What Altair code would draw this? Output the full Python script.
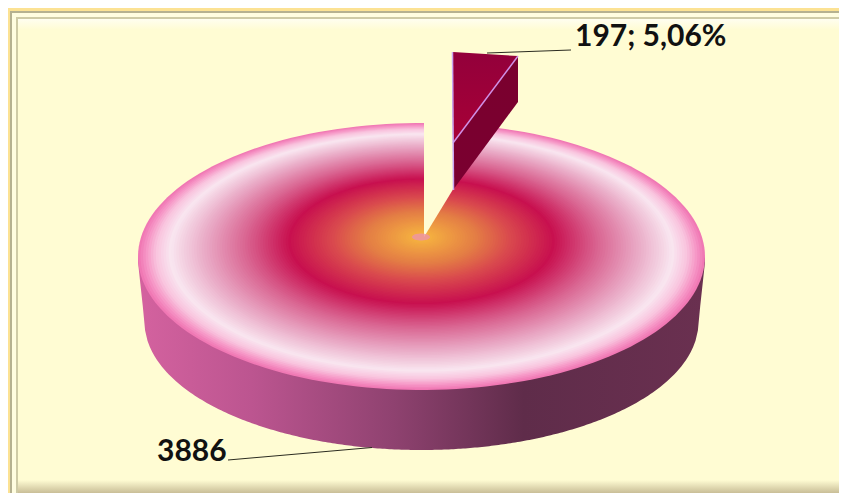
import numpy as np
import pandas as pd
import altair as alt

# values and labels
slice_labels = ["197; 5,06%", "3886"]
label_x = [575, 157]
label_y = [46, 461]

# geometry of the pseudo-3D pie, in picture pixels
PIE_CX, PIE_CY, PIE_A, PIE_B = 421.5, 256.5, 283.5, 133.5
FOCUS_Y = 237
BASE_CY, BASE_A, BASE_B = 322, 277, 128
ring_t = [0, .03, .2, .32, .47, .62, .76, .89, .94, .98, 1]
ring_c = ["#F5B244", "#F5B040", "#E37C45", "#D9484E", "#C8104F", "#D9628F", "#E8A6C3",
          "#F9E6F0", "#F9C4DE", "#F58FC2", "#F078B4"]
side_stops = [(0, "#D4629F"), (.2, "#BC5590"), (.45, "#8F4270"), (.68, "#5F2C4A"), (1, "#6A3050")]

gap_x = [424, 491]
gap_y = [237, 127]
gap_y2 = [110, 110]
edge_lines = {"diag": [(453, 143), (518, 56)], "left": [(452.5, 52), (453.5, 190)]}
leaders = [[(487, 53), (571, 50)], [(228, 460), (372, 447.5)]]

W, H = 831, 485
xs = alt.Scale(domain=[8, 839], range=[0, W])
ys = alt.Scale(domain=[493, 8], range=[H, 0])
X = lambda f: alt.X(f, type="quantitative", scale=xs, axis=None)
Y = lambda f: alt.Y(f, type="quantitative", scale=ys, axis=None)


def hex2rgb(h):
    return np.array([int(h[i:i + 2], 16) for i in (1, 3, 5)], float)


def mix(t):
    arr = np.array([hex2rgb(c) for c in ring_c])
    v = [np.interp(t, ring_t, arr[:, k]) for k in range(3)]
    return "#%02x%02x%02x" % tuple(int(round(q)) for q in v)


def rect(x, x2, y, y2, color):
    d = pd.DataFrame({"x": [x], "x2": [x2], "y": [y], "y2": [y2]})
    return alt.Chart(d).mark_rect(color=color).encode(X("x"), x2="x2", y=Y("y"), y2="y2")


def grad(stops, x2=1, y2=0):
    return alt.LinearGradient(gradient="linear", x1=0, y1=0, x2=x2, y2=y2,
                              stops=[alt.GradientStop(offset=o, color=c) for o, c in stops])


# frame
frame = [
    rect(8, 839, 8, 493, "#FCE293"),
    rect(10, 839, 11, 493, "#B5B190"),
    rect(12, 839, 13, 493, "#FFFDE0"),
    rect(16, 839, 17, 493, "#CFCBA6"),
    rect(18, 839, 19, 493, "#FFFCD3"),
    alt.Chart(pd.DataFrame({"x": [18], "x2": [839], "y": [19], "y2": [30]})).mark_rect(
        color=grad([(0, "#FFFEF0"), (1, "#FFFCD3")], 0, 1)).encode(X("x"), x2="x2", y=Y("y"), y2="y2"),
    alt.Chart(pd.DataFrame({"x": [18], "x2": [839], "y": [480], "y2": [493]})).mark_rect(
        color=grad([(0, "#FFFCD3"), (1, "#C9BE97")], 0, 1)).encode(X("x"), x2="x2", y=Y("y"), y2="y2"),
]

# side wall
sx = np.linspace(PIE_CX - PIE_A, PIE_CX + PIE_A, 240)
u = (sx - PIE_CX) / BASE_A
inner = np.abs(u) < 1
edge = np.abs(sx - PIE_CX)
sy2 = np.where(inner, BASE_CY + BASE_B * np.sqrt(np.clip(1 - u ** 2, 0, 1)),
               322 - (edge - BASE_A) * (60 / (PIE_A - BASE_A)))
side = alt.Chart(pd.DataFrame({"x": sx, "y": PIE_CY, "y2": sy2})).mark_area(
    color=grad(side_stops)).encode(X("x"), y=Y("y"), y2="y2")

# top face: concentric ellipses whose centre slides towards the focus
phi = np.linspace(0, np.pi, 90)
face = []
for t in np.linspace(1, 0.02, 110):
    cy = FOCUS_Y + (PIE_CY - FOCUS_Y) * t ** 2
    dy = PIE_B * t * np.sin(phi)
    d = pd.DataFrame({"x": np.round(PIE_CX + PIE_A * t * np.cos(phi), 2),
                      "y": np.round(cy - dy, 2), "y2": np.round(cy + dy, 2)})
    face.append(alt.Chart(d).mark_area(color=mix(t)).encode(X("x"), y=Y("y"), y2="y2"))

# gap left by the exploded slice
gap = alt.Chart(pd.DataFrame({"x": gap_x, "y": gap_y, "y2": gap_y2})).mark_area(color="#FFFCD3").encode(
    X("x"), y=Y("y"), y2="y2")

# focus dot
dphi = np.linspace(0, np.pi, 30)
dot = alt.Chart(pd.DataFrame({"x": 421 + 9 * np.cos(dphi), "y": 237 - 3.5 * np.sin(dphi),
                              "y2": 237 + 3.5 * np.sin(dphi)})).mark_area(color="#EE93A6", opacity=0.8).encode(
    X("x"), y=Y("y"), y2="y2")

# exploded slice
wedge_side = alt.Chart(pd.DataFrame({"x": [453, 518], "y": [143, 56], "y2": [190, 102]})).mark_area(
    color=grad([(0, "#7A002E"), (1, "#7A0030")], 0, 1)).encode(X("x"), y=Y("y"), y2="y2")
wedge_top = alt.Chart(pd.DataFrame({"x": [452, 453, 518], "y": [52, 52, 56], "y2": [52, 143, 56]})).mark_area(
    color=grad([(0, "#93003B"), (1, "#A80036")], 0, 1)).encode(X("x"), y=Y("y"), y2="y2")


def polyline(pts, color, w):
    d = pd.DataFrame({"x": [p[0] for p in pts], "y": [p[1] for p in pts], "o": range(len(pts))})
    return alt.Chart(d).mark_line(color=color, strokeWidth=w).encode(X("x"), y=Y("y"), order="o:Q")


edges = [polyline(edge_lines["diag"], "#CF8FE6", 1.5), polyline(edge_lines["left"], "#C9A6F2", 1.5)]
lead = [polyline(p, "#2B2B20", 1) for p in leaders]

labels = alt.Chart(pd.DataFrame({"x": label_x, "y": label_y, "t": slice_labels})).mark_text(
    font="Lato", fontWeight="bold", fontSize=30, align="left", baseline="alphabetic", color="#111111"
).encode(X("x"), y=Y("y"), text="t:N")

chart = alt.layer(*frame, side, *face, gap, dot, wedge_side, wedge_top, *edges, *lead, labels).properties(
    width=W, height=H, padding=0, autosize=alt.AutoSizeParams(type="none"), background="#FCE293"
).configure_view(stroke=None)

chart.save("out.html", embed_options={"renderer": "svg", "actions": False})
